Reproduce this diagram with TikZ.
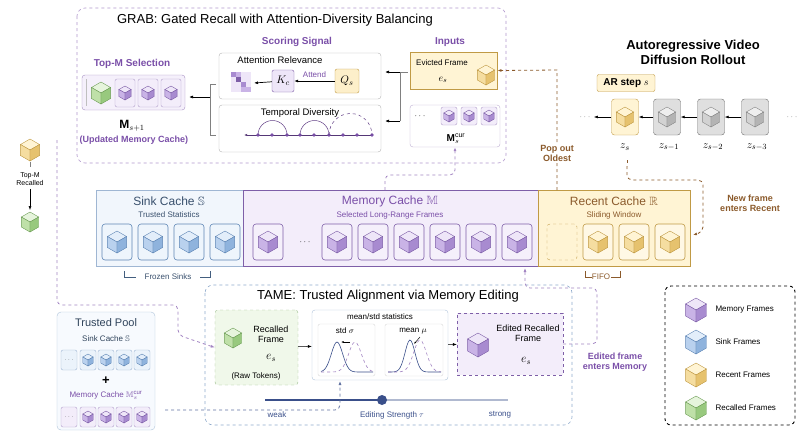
\documentclass[tikz,border=0pt]{standalone}
\usepackage{amssymb}
\usepackage{fontspec}
\setmainfont{Liberation Sans}
\usetikzlibrary{arrows.meta}
\definecolor{pur}{HTML}{7A4FA8}
\definecolor{memA}{HTML}{EEE6F8}\definecolor{memB}{HTML}{C9B3E6}\definecolor{memC}{HTML}{A88BD0}\definecolor{memE}{HTML}{7E5FA8}
\definecolor{snkA}{HTML}{E3EEFA}\definecolor{snkB}{HTML}{B9D1EE}\definecolor{snkC}{HTML}{8FB3DD}\definecolor{snkE}{HTML}{5F86B5}
\definecolor{recA}{HTML}{FFF4D4}\definecolor{recB}{HTML}{F5DDA0}\definecolor{recC}{HTML}{E6C26E}\definecolor{recE}{HTML}{C09A45}
\definecolor{grnA}{HTML}{E6F4DC}\definecolor{grnB}{HTML}{BFE0A8}\definecolor{grnC}{HTML}{98C97E}\definecolor{grnE}{HTML}{6E9E58}
\definecolor{gryA}{HTML}{EEEEEE}\definecolor{gryB}{HTML}{D2D2D2}\definecolor{gryC}{HTML}{B4B4B4}\definecolor{gryE}{HTML}{888888}
\definecolor{brn}{HTML}{8B5A2B}
\definecolor{nav}{HTML}{3A4F8A}
\newcommand\mycube[4]{%
\begin{scope}[shift={(#1,#2)},line width=0.4pt,draw=#4E]
\filldraw[fill=#4A] (0,0)--(-0.87*#3,-0.5*#3)--(0,-#3)--(0.87*#3,-0.5*#3)--cycle;
\filldraw[fill=#4B] (0,0)--(-0.87*#3,-0.5*#3)--(-0.87*#3,0.5*#3)--(0,#3)--cycle;
\filldraw[fill=#4C] (0,0)--(0.87*#3,-0.5*#3)--(0.87*#3,0.5*#3)--(0,#3)--cycle;
\end{scope}}
\tikzset{
 lbl/.style={font=\fontsize{9}{10}\selectfont,align=center},
 slbl/.style={font=\fontsize{8}{9}\selectfont,align=center},
 plbl/.style={font=\bfseries\fontsize{10}{11}\selectfont,text=pur,align=center},
 tile/.style={draw=#1E,fill=#1A!60,rounded corners=3pt,minimum width=30pt,minimum height=36pt,line width=0.6pt},
 stile/.style={draw=#1E!60,fill=#1A!70,rounded corners=2pt,minimum width=16pt,minimum height=20pt,line width=0.4pt},
 arr/.style={-{Latex[length=4pt]},line width=0.7pt},
 dsh/.style={dashed,line width=0.8pt},
}
\begin{document}
\begin{tikzpicture}[x=1pt,y=-1pt]
\useasboundingbox (0,0) rectangle (800,437);
% ===== GRAB
\draw[dashed,pur!60,rounded corners=8pt,line width=0.6pt] (77,8) rectangle (506,163);
\node[font=\fontsize{13}{14}\selectfont] (grabt) at (275,20) {GRAB: Gated Recall with Attention-Diversity Balancing};
\node[plbl] (ss) at (297,42) {Scoring Signal};
\draw[gray!60,rounded corners=3pt,fill=white] (219,53) rectangle (381,99);
\node[lbl,font=\fontsize{9.5}{10}\selectfont] (ar) at (280,60) {Attention Relevance};
\draw[gray!60,rounded corners=3pt,fill=white] (219,105) rectangle (381,152);
\node[lbl,font=\fontsize{9.5}{10}\selectfont] (td) at (300,113) {Temporal Diversity};
% attention matrix
\foreach \i in {0,...,3}{\foreach \j in {0,...,3}{\fill[memA] (231+5*\i,72+5*\j) rectangle +(4.5,4.5);}}
\foreach \i/\j/\c in {0/0/memC,1/1/memE,2/2/memC,3/3/memB,1/0/memB,2/3/memB}{\fill[\c] (231+5*\i,72+5*\j) rectangle +(4.5,4.5);}
\node[draw=memE,fill=memA,rounded corners=2pt,minimum width=22pt,minimum height=22pt,font=\fontsize{11}{12}\selectfont] (kc) at (283,81) {$K_c$};
\node[draw=recE,fill=recA!80!recB,rounded corners=2pt,minimum width=24pt,minimum height=24pt,font=\fontsize{11}{12}\selectfont] (qs) at (347,81) {$Q_s$};
\draw[arr] (qs) -- node[above,slbl,text=pur] {Attend} (kc);
\coordinate (mat) at (254,83);
\draw[arr] (kc) -- (mat);
% temporal
\draw[-{Latex[length=3pt]},pur!70!black,line width=0.6pt] (372,135) -- (244,135);
\foreach \x in {258,272,287,300,314,329,343,357,372}{\fill[pur] (\x,135) circle (1.8);}
\draw[pur!80!black,line width=0.5pt] (258,135) arc[start angle=180,end angle=360,radius=14.5];
\draw[pur!80!black,line width=0.5pt] (300,135) arc[start angle=180,end angle=360,radius=14.5];
\draw[pur!80!black,dashed,line width=0.5pt] (329,135) arc[start angle=180,end angle=360,radius=21.5];
% Top-M
\node[plbl] (topm) at (132,64) {Top-M Selection};
\draw[memE!70,fill=memA!60,rounded corners=3pt] (82,75) rectangle (185,110);
\draw[gray!50] (86,79)--(86,106);
\mycube{101}{93}{11}{grn}
\foreach \x in {125,148,171}{\node[stile=mem,minimum width=20pt,minimum height=28pt] at (\x,93) {}; \mycube{\x}{93}{7}{mem}}
\node[font=\fontsize{12}{13}\selectfont] (ms1) at (132,126) {$\mathbf{M}_{s+1}$};
\node[plbl,font=\bfseries\fontsize{9}{10}\selectfont] (umc) at (134,140) {(Updated Memory Cache)};
\draw[gray,line width=0.7pt] (216,84)--(210,84)--(210,135)--(216,135);
\coordinate (topmr) at (189,97);
\draw[arr] (210,97) -- (topmr);
% Inputs
\node[plbl] (inp) at (450,42) {Inputs};
\node[draw=recE,fill=recA,line width=0.9pt,minimum width=87pt,minimum height=37pt,inner sep=0] (ev) at (453.5,70.5) {};
\node[slbl] at (442,63) {Evicted Frame};
\node[font=\fontsize{10}{11}\selectfont] at (443,80) {$e_s$};
\mycube{486}{75}{10}{rec}
\node[draw=memE!50,fill=white,rounded corners=3pt,minimum width=90pt,minimum height=42pt,inner sep=0] (mcur) at (455,126) {};
\node[lbl] at (420,116) {$\cdots$};
\foreach \x in {449,469,489}{\node[stile=mem,minimum height=18pt] at (\x,116) {}; \mycube{\x}{116}{6}{mem}}
\node[font=\fontsize{10}{11}\selectfont] at (456,139) {$\mathbf{M}_s^{\mathrm{cur}}$};
\draw[gray,line width=0.9pt] (400,72)--(400,121);
\draw[gray,line width=0.5pt] (400,72)--(408,72);
\coordinate (arR) at (385,72); \coordinate (tdR) at (385,121);
\draw[arr] (400,72) -- (arR);
\draw[arr] (400,121) -- (tdR);
% ===== AR rollout
\node[font=\bfseries\fontsize{13}{15}\selectfont,align=center] (art) at (693,52) {Autoregressive Video\\Diffusion Rollout};
\node[draw=recE,fill=recA,rounded corners=2pt,font=\bfseries\fontsize{10}{11}\selectfont,minimum width=58pt,minimum height=17pt] (arstep) at (626,83) {AR step $s$};
\node[draw=recE,fill=recA,rounded corners=3pt,minimum width=27pt,minimum height=36pt] (zs) at (625,117) {};
\mycube{625}{117}{10}{rec}
\foreach \n/\x in {z1/667,z2/711,z3/755}{\node[draw=gryE!80!black,fill=gryB!70,rounded corners=3pt,minimum width=27pt,minimum height=36pt] (\n) at (\x,117) {}; \mycube{\x}{117}{10}{gry}}
\node[lbl,text=gray] (dl) at (585,117) {$\cdots$};
\node[lbl,text=gray] (dr) at (792,117) {$\cdots$};
\draw[arr,line width=0.6pt] (z3)--(z2); \draw[arr,line width=0.6pt] (z2)--(z1); \draw[arr,line width=0.6pt] (z1)--(zs); \draw[arr,line width=0.6pt] (zs)--(dl);
\foreach \t/\x in {z_s/625,z_{s-1}/669,z_{s-2}/713,z_{s-3}/757}{\node[font=\fontsize{11}{12}\selectfont] at (\x,147) {$\t$};}
% ===== Caches
\node[draw=snkE!60,fill=snkA!50,line width=0.8pt,minimum width=147pt,minimum height=76pt,inner sep=0] (sink) at (169.5,228) {};
\node[draw=memE,fill=memA!70,line width=1pt,minimum width=295pt,minimum height=76pt,inner sep=0] (mem) at (390.5,228) {};
\node[draw=recE,fill=recA,line width=1pt,minimum width=152pt,minimum height=76pt,inner sep=0] (rec) at (614,228) {};
\node[font=\fontsize{12}{13}\selectfont,text=snkE!60!black] at (169,201) {Sink Cache $\mathbb{S}$};
\node[slbl,text=snkE!60!black] at (169,215) {Trusted Statistics};
\node[font=\fontsize{12}{13}\selectfont,text=pur] at (390,201) {Memory Cache $\mathbb{M}$};
\node[slbl,text=pur] at (390,215) {Selected Long-Range Frames};
\node[font=\fontsize{12}{13}\selectfont,text=brn] at (614,201) {Recent Cache $\mathbb{R}$};
\node[slbl,text=brn] at (614,215) {Sliding Window};
\foreach \x in {117,153,189,225}{\node[tile=snk] at (\x,242) {}; \mycube{\x}{242}{11}{snk}}
\node[tile=mem] at (268,242) {}; \mycube{268}{242}{11}{mem}
\node[lbl] at (305,242) {$\cdots$};
\foreach \x in {337,373,409,445,481,517}{\node[tile=mem] at (\x,242) {}; \mycube{\x}{242}{11}{mem}}
\node[draw=recE,dashed,rounded corners=3pt,minimum width=30pt,minimum height=36pt] at (562,242) {};
\foreach \x in {598,634,670}{\node[tile=rec] at (\x,242) {}; \mycube{\x}{242}{11}{rec}}
\draw[snkE!70!black,line width=0.8pt] (124,271)--(124,277)--(136,277) (200,277)--(210,277)--(210,271);
\node[slbl,text=snkE!60!black] at (168,277) {Frozen Sinks};
\draw[brn,line width=0.8pt] (585,271)--(585,277)--(592,277) (611,277)--(620,277)--(620,271);
\node[slbl,text=brn] at (601,277) {FIFO};
% pop out oldest
\draw[dsh,brn,-{Latex[length=4pt]}] (557,190) -- (557,70) -- (ev.east);
\node[font=\bfseries\fontsize{9}{10}\selectfont,text=brn,align=center,fill=white,inner sep=1pt] at (557,153) {Pop out\\Oldest};
% new frame
\coordinate (recin) at (693,235);
\draw[dsh,brn] (627,160)--(627,166);
\draw[dsh,brn,-{Latex[length=4pt]},rounded corners=5pt] (627,166) -- (627,180) -- (703,180) -- (703,232) -- (recin);
\node[font=\bfseries\fontsize{9}{10}\selectfont,text=brn,align=center] at (750,203) {New frame\\enters Recent};
% Mcur feed
\draw[dsh,pur!70,-{Latex[length=4pt]},rounded corners=5pt] (385,190) -- (385,175) -- (455,175) -- (mcur.south);
% ===== Left recalled
\mycube{30}{150}{11}{rec}
\draw[gray,line width=0.6pt] (30,162)--(30,167);
\node[slbl,font=\fontsize{7}{8}\selectfont] (tmr) at (30,179) {Top-M\\Recalled};
\mycube{30}{222}{10}{grn}
\draw[arr,line width=0.5pt] (tmr.south) -- (30,210);
% ===== Trusted pool
\draw[snkE!50,fill=snkA!30,rounded corners=4pt] (57,312) rectangle (155,430);
\node[font=\fontsize{11}{12}\selectfont,text=snkE!50!black] (tp) at (106,323) {Trusted Pool};
\node[slbl,text=snkE!50!black] at (106,339) {Sink Cache $\mathbb{S}$};
\node[stile=snk] at (69,360) {\tiny$\cdots$};
\foreach \x in {88,106,124,142}{\node[stile=snk] at (\x,360) {}; \mycube{\x}{360}{6}{snk}}
\node[font=\bfseries\fontsize{13}{13}\selectfont] at (106,381) {+};
\node[slbl,text=pur] at (106,395) {Memory Cache $\mathbb{M}_s^{\mathrm{cur}}$};
\node[stile=mem] (tpm0) at (69,417) {\tiny$\cdots$};
\foreach \x in {88,106,124,142}{\node[stile=mem] at (\x,417) {}; \mycube{\x}{417}{6}{mem}}
% ===== TAME
\draw[dashed,snkE!70,rounded corners=8pt,line width=0.6pt] (205,285) rectangle (572,425);
\node[font=\fontsize{13}{14}\selectfont] (tamet) at (388,296) {TAME: Trusted Alignment via Memory Editing};
\node[draw=grnE!70,dashed,fill=grnA!60,rounded corners=3pt,minimum width=83pt,minimum height=75pt,inner sep=0] (recb) at (256.5,347.5) {};
\mycube{233}{338}{10}{grn}
\node[lbl] at (271,334) {Recalled\\Frame};
\node[font=\fontsize{12}{13}\selectfont] at (271,358) {$e_s$};
\node[slbl] at (256,376) {(Raw Tokens)};
\node[draw=snkE!50,fill=white,rounded corners=3pt,minimum width=136pt,minimum height=70pt,inner sep=0] (stat) at (380,345) {};
\node[slbl] at (380,317) {mean/std statistics};
\draw[gray!30,rounded corners=2pt] (318,324) rectangle (375,376);
\draw[gray!30,rounded corners=2pt] (385,324) rectangle (443,376);
\node[slbl] at (345,331) {std $\sigma$};
\node[slbl] at (413,331) {mean $\mu$};
\draw[nav,line width=0.6pt] plot[domain=321:373,samples=40] (\x,{372-30*exp(-((\x-337)/8)^2)});
\draw[pur!70,dashed,line width=0.6pt] plot[domain=321:373,samples=40] (\x,{372-30*exp(-((\x-355)/9)^2)});
\draw[-{Latex[length=2.5pt]},line width=0.5pt] (350,342)--(341,342);
\draw[nav,line width=0.6pt] plot[domain=388:441,samples=40] (\x,{372-32*exp(-((\x-410)/7)^2)});
\draw[pur!70,dashed,line width=0.6pt] plot[domain=388:441,samples=40] (\x,{372-32*exp(-((\x-420)/9)^2)});
\draw[-{Latex[length=2.5pt]},line width=0.5pt] (420,337)--(414,344);
\node[draw=memE,dashed,fill=memA!70,minimum width=106pt,minimum height=62pt,inner sep=0] (edb) at (510,344) {};
\mycube{478}{345}{12}{mem}
\node[lbl] at (528,333) {Edited Recalled\\Frame};
\node[font=\fontsize{12}{13}\selectfont] at (526,361) {$e_s$};
\draw[arr,line width=0.5pt] (recb) -- (stat);
\draw[arr,line width=0.5pt] (stat) -- (edb);
% slider
\draw[nav,line width=2pt] (265,400)--(382,400);
\draw[nav!40,line width=1.2pt] (382,400)--(508,400);
\node[circle,fill=nav,minimum size=10pt,inner sep=0] (knob) at (382,400) {};
\node[slbl,text=nav] at (277,415) {weak};
\node[slbl,text=nav] at (392,415) {Editing Strength $\tau$};
\node[slbl,text=nav] at (500,415) {strong};
% dashed connectors
\draw[dsh,pur!70,-{Latex[length=4pt]},rounded corners=5pt] (57,140) -- (57,305) -- (178,305) -- (178,335) -- (recb.west);
\coordinate (statin) at (340,381);
\draw[dsh,nav!80,-{Latex[length=4pt]},rounded corners=5pt] (165,410) -- (340,410) -- (340,397) -- (statin);
\coordinate (memin) at (525,268);
\draw[dsh,pur!70,-{Latex[length=4pt]},rounded corners=5pt] (edb.east) -- (597,344) -- (597,288) -- (525,288) -- (memin);
\node[font=\bfseries\fontsize{9}{10}\selectfont,text=pur,align=center] at (615,362) {Edited frame\\enters Memory};
% ===== Legend
\draw[dashed,line width=0.9pt,rounded corners=6pt] (665,286) rectangle (795,425);
\foreach \y/\c/\t in {310/mem/Memory Frames,342/snk/Sink Frames,375/rec/Recent Frames,408/grn/Recalled Frames}{\mycube{696}{\y}{12}{\c}\node[slbl,anchor=west] at (712,\y) {\t};}
\end{tikzpicture}
\end{document}
